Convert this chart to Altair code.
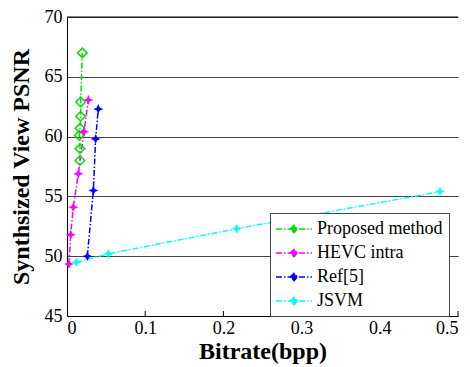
import altair as alt
import pandas as pd

series_names = ["Proposed method", "HEVC intra", "Ref[5]", "JSVM"]
colors = ["#00e000", "#ff00ff", "#0000ff", "#00ffff"]

proposed_x = [0.0166, 0.0166, 0.0158, 0.0166, 0.0175, 0.0175, 0.0196]
proposed_y = [58.0, 59.0, 60.1, 60.7, 61.7, 62.9, 67.0]
hevc_x = [0.0026, 0.0047, 0.0080, 0.0145, 0.0217, 0.0273]
hevc_y = [49.35, 51.8, 54.1, 56.9, 60.4, 63.06]
ref5_x = [0.026, 0.0337, 0.0366, 0.040]
ref5_y = [50.0, 55.5, 59.8, 62.3]
jsvm_x = [0.012, 0.053, 0.217, 0.477]
jsvm_y = [49.5, 50.2, 52.3, 55.4]

x_ticks = [0, 0.1, 0.2, 0.3, 0.4, 0.5]
y_ticks = [45, 50, 55, 60, 65, 70]

rows = []
for name, xs, ys in zip(series_names,
                        [proposed_x, hevc_x, ref5_x, jsvm_x],
                        [proposed_y, hevc_y, ref5_y, jsvm_y]):
    for i, (a, b) in enumerate(zip(xs, ys)):
        rows.append({"series": name, "mseries": name, "bitrate": a, "psnr": b, "order": i})
df = pd.DataFrame(rows)
ticks_df = pd.DataFrame({"t": x_ticks[1:]})

diamond = "M0,-1L1,0L0,1L-1,0Z"
star = "M0,-1L0.3,-0.3L1,0L0.3,0.3L0,1L-0.3,0.3L-1,0L-0.3,-0.3Z"
legend_sym = "M-2,0L2,0M-0.4,0L0,-0.4L0.4,0L0,0.4Z"

font = "Liberation Serif"
dash = [6, 2, 1.5, 2]

x_scale = alt.Scale(domain=[0, 0.5], nice=False)
y_scale = alt.Scale(domain=[45, 70], nice=False, zero=False)

x_enc = alt.X("bitrate:Q", scale=x_scale,
              axis=alt.Axis(values=x_ticks, title="Bitrate(bpp)", format="~g",
                            grid=False, tickSize=0, labelPadding=3,
                            titlePadding=2))
y_enc = alt.Y("psnr:Q", scale=y_scale,
              axis=alt.Axis(values=y_ticks, title="Synthsized View PSNR",
                            grid=True, tickSize=0, labelPadding=5,
                            titlePadding=11))

lines = alt.Chart(df).mark_line(strokeWidth=1.5, strokeDash=dash).encode(
    x=x_enc, y=y_enc, order="order:Q",
    color=alt.Color("series:N", sort=series_names,
                    scale=alt.Scale(domain=series_names, range=colors),
                    legend=alt.Legend(title=None, orient="none", legendX=203, legendY=196,
                                      symbolType=legend_sym, symbolSize=324,
                                      symbolOffset=8,
                                      symbolStrokeWidth=1.5, symbolDash=dash,
                                      labelFont=font, labelFontSize=18,
                                      labelColor="black", fillColor="white",
                                      strokeColor="#444444", padding=6, rowPadding=5,
                                      labelOffset=13, labelLimit=300)),
)

diamonds = alt.Chart(df).transform_filter(
    alt.datum.mseries == series_names[0]
).mark_point(shape=diamond, size=90, strokeWidth=1.5, filled=False,
             color=colors[0], opacity=1).encode(
    x=alt.X("bitrate:Q", scale=x_scale), y=alt.Y("psnr:Q", scale=y_scale),
)

stars = alt.Chart(df).transform_filter(
    alt.datum.mseries != series_names[0]
).mark_point(shape=star, size=100, strokeWidth=1, filled=True, opacity=1).encode(
    x=alt.X("bitrate:Q", scale=x_scale), y=alt.Y("psnr:Q", scale=y_scale),
    fill=alt.Fill("mseries:N", scale=alt.Scale(domain=series_names, range=colors), legend=None),
)

top_line = alt.Chart(pd.DataFrame({"v": [y_ticks[-1]]})).mark_rule(
    color="black", strokeWidth=1).encode(y=alt.Y("v:Q", scale=y_scale))

inner_ticks = alt.Chart(ticks_df).mark_rule(color="black", strokeWidth=1).encode(
    x=alt.X("t:Q", scale=x_scale),
    y=alt.datum(45), y2=alt.datum(45.42),
)

chart = alt.layer(lines, diamonds, stars, top_line, inner_ticks).properties(
    width=391, height=299,
    background="white",
    autosize=alt.AutoSizeParams(type="none"),
    padding={"left": 59, "top": 9, "right": 4, "bottom": 52},
).configure_view(strokeWidth=0).configure_axis(
    labelFont=font, labelFontSize=18, labelColor="black",
    titleFont=font, titleFontSize=24, titleFontWeight="bold", titleColor="black",
    domain=True, domainColor="black", domainWidth=1,
    gridColor="#444444", gridWidth=1, gridOpacity=1,
)

chart.save("out.html", embed_options={"renderer": "svg", "actions": False})
